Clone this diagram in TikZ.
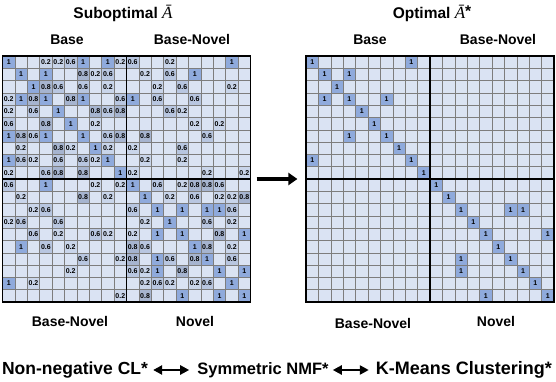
\documentclass[tikz,border=0pt]{standalone}
\usepackage{fontspec}
\setmainfont{Liberation Sans}
\newfontfamily\serifit{Liberation Serif}
\usepackage{tikz}
\usetikzlibrary{positioning}
\usetikzlibrary{calc}
\usetikzlibrary{arrows.meta}
\definecolor{cellempty}{RGB}{218,227,243}
\definecolor{v1}{RGB}{143,170,220}
\definecolor{v8}{RGB}{166,180,207}
\definecolor{v6}{RGB}{184,198,224}
\definecolor{v2}{RGB}{201,213,234}
\definecolor{gridgray}{RGB}{125,125,125}
\newcommand{\cellw}{12.4}
\newcommand{\cellh}{12.3}
\newcommand{\abar}{{\serifit\itshape\mdseries\fontsize{17}{17}\selectfont Ā}}

\begin{document}
\begin{tikzpicture}[
        x=1pt, y=1pt,
        valcell/.style={minimum width=\cellw pt, minimum height=\cellh pt, inner sep=0pt,
                        font=\fontsize{7}{7}\selectfont\bfseries},
        matframe/.style={draw=black, line width=1.2pt, minimum width=248pt,
                         minimum height=246pt, inner sep=0pt},
        gridline/.style={draw=gridgray, line width=0.5pt},
        divline/.style={draw=black, line width=1.2pt},
        ttl/.style={font=\fontsize{15.5}{16}\selectfont\bfseries, inner sep=0pt},
        lbl/.style={font=\fontsize{14}{15}\selectfont\bfseries, inner sep=0pt},
        eqlbl/.style={font=\fontsize{17.5}{18}\selectfont\bfseries, inner sep=0pt},
        bigarrow/.style={-{Triangle[length=9pt,width=12pt]}, line width=4pt},
        dblarrow/.style={{Triangle[length=9pt,width=9pt]}-{Triangle[length=9pt,width=9pt]}, line width=2.5pt}
    ]
        \useasboundingbox (0,0) rectangle (556,382);

        % suboptimal matrix
        \fill[cellempty] (2.5,80) rectangle (250.5,326);
        \foreach \row [count=\r from 0] in {
            {1,0,0,2,2,6,1,0,1,2,6,0,0,2,0,0,0,0,1,0},
            {0,1,0,1,0,0,8,2,6,0,0,2,0,6,0,1,0,0,0,0},
            {0,0,1,8,6,0,6,0,2,0,0,0,2,0,6,0,0,0,2,0},
            {2,1,8,1,0,8,1,0,0,6,1,0,6,0,0,6,0,0,0,0},
            {2,0,6,0,1,0,0,8,6,8,0,0,0,6,2,0,0,0,0,0},
            {6,0,0,8,0,1,0,2,0,0,0,0,0,0,0,2,0,2,0,0},
            {1,8,6,1,0,0,1,0,6,8,0,8,0,0,0,0,6,0,0,0},
            {0,2,0,0,8,2,0,1,2,0,2,0,0,0,6,0,0,0,0,0},
            {1,6,2,0,6,0,6,2,1,0,0,2,0,0,2,0,0,0,0,0},
            {2,0,0,6,8,0,8,0,0,1,2,0,0,0,0,0,2,0,0,2},
            {6,0,0,1,0,0,0,2,0,2,1,0,6,0,2,8,8,6,0,0},
            {0,2,0,0,0,0,8,0,2,0,0,1,0,2,0,6,0,2,2,8},
            {0,0,2,6,0,0,0,0,0,0,6,0,1,0,1,0,1,1,6,0},
            {2,6,0,0,6,0,0,0,0,0,0,2,0,1,0,0,6,0,2,0},
            {0,0,6,0,2,0,0,6,2,0,2,0,1,0,1,0,0,8,0,1},
            {0,1,0,6,0,2,0,0,0,0,8,6,0,0,0,1,8,0,2,0},
            {0,0,0,0,0,0,6,0,0,2,8,0,1,6,0,8,1,0,6,0},
            {0,0,0,0,0,2,0,0,0,0,6,2,1,0,8,0,0,1,0,1},
            {1,0,2,0,0,0,0,0,0,0,0,2,6,2,0,2,6,0,1,0},
            {0,0,0,0,0,0,0,0,0,2,0,8,0,0,1,0,0,1,0,1}} {
            \foreach \v [count=\c from 0] in \row {
                \ifnum\v>0
                    \node[valcell, fill=v\v] (sub-\r-\c) at ({2.5+(\c+0.5)*\cellw},{326-(\r+0.5)*\cellh})
                        {\ifnum\v=1 1\else 0.\v\fi};
                \fi
            }
        }
        \foreach \i in {1,...,19} {
            \draw[gridline] ({2.5+\i*\cellw},80) -- ({2.5+\i*\cellw},326);
            \draw[gridline] (2.5,{80+\i*\cellh}) -- (250.5,{80+\i*\cellh});
        }
        \node[matframe] (subopt) at (126.5,203) {};
        \draw[divline] (subopt.north) -- (subopt.south);
        \draw[divline] (subopt.west) -- (subopt.east);

        % optimal matrix
        \fill[cellempty] (306,80) rectangle (554,326);
        \foreach \r/\c in {0/0,0/8,1/1,1/3,2/2,3/1,3/3,3/6,4/4,5/5,6/3,6/6,7/7,8/0,8/8,9/9,
                           10/10,11/11,12/12,12/16,12/17,13/13,14/14,14/19,15/15,16/12,16/16,
                           17/12,17/17,18/18,19/14,19/19} {
            \node[valcell, fill=v1] (opt-\r-\c) at ({306+(\c+0.5)*\cellw},{326-(\r+0.5)*\cellh}) {1};
        }
        \foreach \i in {1,...,19} {
            \draw[gridline] ({306+\i*\cellw},80) -- ({306+\i*\cellw},326);
            \draw[gridline] (306,{80+\i*\cellh}) -- (554,{80+\i*\cellh});
        }
        \node[matframe] (opt) at (430,203) {};
        \draw[divline] (opt.north) -- (opt.south);
        \draw[divline] (opt.west) -- (opt.east);

        % titles and block labels
        \node[ttl] (subttl) at (123,369) {Suboptimal \abar};
        \node[ttl] (optttl) at (432,369) {Optimal \abar\raisebox{1.5pt}{*}};
        \node[lbl] (subbase) at (67,342) {Base};
        \node[lbl] (subbn) at (192,342) {Base-Novel};
        \node[lbl] (optbase) at (370,342) {Base};
        \node[lbl] (optbn) at (498,342) {Base-Novel};
        \node[lbl] (subbnlow) at (70,61) {Base-Novel};
        \node[lbl] (subnovel) at (195,61) {Novel};
        \node[lbl] (optbnlow) at (373,59) {Base-Novel};
        \node[lbl] (optnovel) at (496,61) {Novel};

        \draw[bigarrow, shorten <=5.5pt, shorten >=8pt] (subopt.east) -- (opt.west);

        % equivalences
        \node[eqlbl] (ncl) at (75,12) {Non-negative CL*};
        \node[eqlbl, font=\fontsize{16.5}{17}\selectfont\bfseries] (snmf) at (263,12) {Symmetric NMF*};
        \node[eqlbl, font=\fontsize{18}{19}\selectfont\bfseries] (kmc) at (464,12) {K-Means Clustering*};
        \draw[dblarrow, shorten <=5pt, shorten >=8pt] (ncl) -- (snmf);
        \draw[dblarrow, shorten <=4pt, shorten >=7pt] (snmf) -- (kmc);
    \end{tikzpicture}
\end{document}
